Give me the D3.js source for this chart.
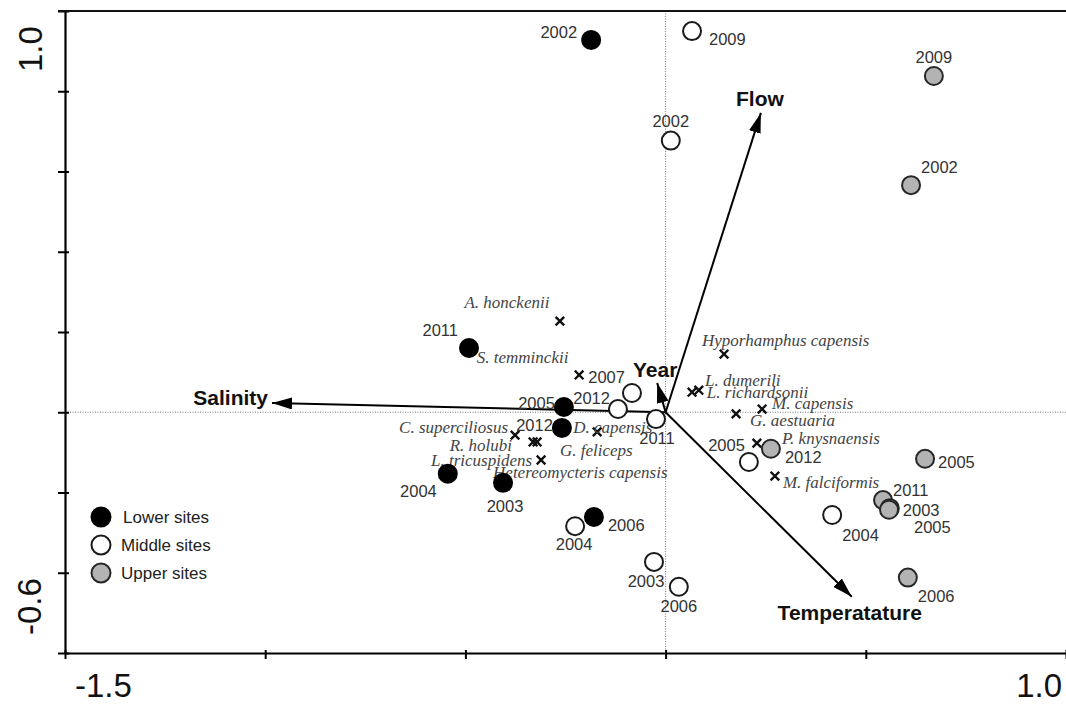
<!DOCTYPE html>
<html><head><meta charset="utf-8">
<script src="https://cdn.jsdelivr.net/npm/d3@7/dist/d3.min.js"></script>
<style>body{margin:0;background:#fff}svg{display:block}</style>
</head><body>
<svg id="c" width="1066" height="705"></svg>
<script>
// ---- data ----
const lowerYears = ["2002","2011","2005","2012","2004","2003","2006"];
const lowerX = [-0.186,-0.491,-0.254,-0.259,-0.544,-0.406,-0.179];
const lowerY = [0.928,0.160,0.013,-0.039,-0.153,-0.176,-0.261];

const middleYears = ["2009","2002","2007","2012","2011","2004","2003","2006","2005","2004"];
const middleX = [0.066,0.013,-0.084,-0.119,-0.024,-0.226,-0.029,0.033,0.208,0.416];
const middleY = [0.950,0.677,0.048,0.008,-0.017,-0.284,-0.373,-0.435,-0.124,-0.256];

const upperYears = ["2009","2002","2012","2005","2011","2003","2005","2006"];
const upperX = [0.670,0.613,0.263,0.648,0.543,0.560,0.558,0.605];
const upperY = [0.838,0.566,-0.091,-0.116,-0.219,-0.239,-0.243,-0.412];

const speciesNames = ["A. honckenii","S. temminckii","","C. superciliosus","R. holubi","L. tricuspidens",
  "Hetereomycteris capensis","D. capensis","G. feliceps","Hyporhamphus capensis","L. dumerili",
  "L. richardsonii","M. capensis","G. aestuaria","P. knysnaensis","M. falciformis"];
const speciesX = [-0.264,-0.489,-0.216,-0.376,-0.331,-0.321,-0.311,-0.171,-0.264,0.146,0.066,0.083,0.241,0.176,0.228,0.273];
const speciesY = [0.227,0.155,0.093,-0.057,-0.074,-0.074,-0.119,-0.049,-0.044,0.145,0.050,0.055,0.008,-0.004,-0.077,-0.159];

const vectorNames = ["Flow","Salinity","Temperatature","Year"];
const vectorX = [0.238,-0.983,0.465,-0.021];
const vectorY = [0.746,0.023,-0.460,0.073];

const xTicks = [-1.5,-1.0,-0.5,0,0.5,1.0];
const yTicks = [-0.6,-0.4,-0.2,0,0.2,0.4,0.6,0.8,1.0];
const xTickLabels = ["-1.5","1.0"];
const yTickLabels = ["1.0","-0.6"];
const legendLabels = ["Lower sites","Middle sites","Upper sites"];

// ---- layout (label offsets in px: dx, dy, anchor) ----
const lowerLab = [[-14,-8,"end"],[-11,-18,"end"],[-9,-4,"end"],[-9,-3,"end"],[-11,18,"end"],[2,23,"middle"],[14,8,"start"]];
const middleLab = [[17,8,"start"],[0,-19,"middle"],[-7,-16,"end"],[-8,-11,"end"],[1,19,"middle"],[-1,18,"middle"],[-8,19,"middle"],[0,19,"middle"],[-4,-17,"end"],[10,20,"start"]];
const upperLab = [[0,-19,"middle"],[10,-18,"start"],[14,8,"start"],[13,3,"start"],[10,-10,"start"],[13,2,"start"],[25,17,"start"],[10,19,"start"]];
const speciesLab = [[-53,-19,"middle"],[7,7,"start"],[0,0,"start"],[-7,-8,"end"],[-21,3,"end"],[-5,18,"end"],
  [-48,12,"start"],[-24,-5,"start"],[0,20,"start"],[-22,-14,"start"],[13,-12,"start"],[8,2,"start"],
  [10,-6,"start"],[14,6,"start"],[25,-5,"start"],[8,6,"start"]];
const vectorLab = [[-1,-14,"middle"],[-4,-5,"end"],[-2,16,"middle"],[-2,-13,"middle"]];

const svg = d3.select("#c");
const x = d3.scaleLinear().domain([-1.5,1.0]).range([65,1066]);
const y = d3.scaleLinear().domain([-0.6,1.0]).range([653,11]);

const SANS = "'Liberation Sans', Arial, sans-serif";
const SERIF = "'Liberation Serif', 'Times New Roman', serif";

// dotted reference lines
svg.append("line").attr("x1",x(0)).attr("x2",x(0)).attr("y1",y(1.0)).attr("y2",y(-0.6))
  .attr("stroke","#777").attr("stroke-width",1).attr("stroke-dasharray","1,1.5");
svg.append("line").attr("x1",x(-1.5)).attr("x2",x(1.0)).attr("y1",y(0)).attr("y2",y(0))
  .attr("stroke","#777").attr("stroke-width",1).attr("stroke-dasharray","1,1.5");

// axes
const ax = svg.append("g").attr("transform",`translate(0,${y(-0.6)})`)
  .call(d3.axisBottom(x).tickValues(xTicks).tickFormat("").tickSize(6).tickSizeOuter(0));
ax.selectAll(".tick line").attr("y1",-3).attr("stroke-width",2);
ax.select(".domain").attr("stroke-width",2.2);
const ay = svg.append("g").attr("transform",`translate(${x(-1.5)},0)`)
  .call(d3.axisLeft(y).tickValues(yTicks).tickFormat("").tickSize(7).tickSizeOuter(0));
ay.selectAll(".tick line").attr("x1",4).attr("stroke-width",2);
ay.select(".domain").attr("stroke-width",2.2);
svg.append("line").attr("x1",58).attr("x2",1066).attr("y1",y(1.0)).attr("y2",y(1.0))
  .attr("stroke","#111").attr("stroke-width",2.2);

// tick labels
svg.append("text").attr("x",x(-1.5)+10).attr("y",697).attr("font-family",SANS).attr("font-size",33)
  .attr("fill","#111").text(xTickLabels[0]);
svg.append("text").attr("x",x(1.0)-4).attr("y",697).attr("text-anchor","end").attr("font-family",SANS)
  .attr("font-size",33).attr("fill","#111").text(xTickLabels[1]);
svg.append("text").attr("transform",`translate(42,${y(1.0)+61}) rotate(-90)`).attr("font-family",SANS)
  .attr("font-size",33).attr("fill","#111").text(yTickLabels[0]);
svg.append("text").attr("transform",`translate(41,${y(-0.6)-18}) rotate(-90)`).attr("font-family",SANS)
  .attr("font-size",33).attr("fill","#111").text(yTickLabels[1]);

// species markers
const sp = speciesNames.map((n,i)=>({n, x:speciesX[i], y:speciesY[i], l:speciesLab[i]}));
const cs = 4.3;
sp.forEach(d=>{
  const px = x(d.x), py = y(d.y);
  svg.append("path").attr("d",`M${px-cs},${py-cs}L${px+cs},${py+cs}M${px-cs},${py+cs}L${px+cs},${py-cs}`)
    .attr("stroke","#111").attr("stroke-width",2.4);
});
sp.filter(d=>d.n).forEach(d=>{
  svg.append("text").attr("x",x(d.x)+d.l[0]).attr("y",y(d.y)+d.l[1]).attr("dy","0.35em")
    .attr("text-anchor",d.l[2]).attr("font-family",SERIF).attr("font-style","italic")
    .attr("font-size",17).attr("fill","#444").text(d.n);
});

// environmental vectors
const defs = svg.append("defs");
defs.append("marker").attr("id","ah").attr("viewBox","0 0 20 12").attr("refX",20).attr("refY",6)
  .attr("markerWidth",20).attr("markerHeight",12).attr("markerUnits","userSpaceOnUse").attr("orient","auto")
  .append("path").attr("d","M0,0L20,6L0,12Z").attr("fill","#000");
vectorNames.forEach((n,i)=>{
  svg.append("line").attr("x1",x(0)).attr("y1",y(0)).attr("x2",x(vectorX[i])).attr("y2",y(vectorY[i]))
    .attr("stroke","#000").attr("stroke-width",2).attr("marker-end","url(#ah)");
  const l = vectorLab[i];
  svg.append("text").attr("x",x(vectorX[i])+l[0]).attr("y",y(vectorY[i])+l[1]).attr("dy","0.35em")
    .attr("text-anchor",l[2]).attr("font-family",SANS).attr("font-weight","bold").attr("font-size",21)
    .attr("fill","#111").text(n);
});

// site points
const groups = [
  {years:lowerYears, xs:lowerX, ys:lowerY, lab:lowerLab, fill:"#000", stroke:"#000"},
  {years:middleYears, xs:middleX, ys:middleY, lab:middleLab, fill:"#fff", stroke:"#1a1a1a"},
  {years:upperYears, xs:upperX, ys:upperY, lab:upperLab, fill:"#b3b3b3", stroke:"#262626"}
];
groups.forEach(g=>{
  svg.append("g").selectAll("circle").data(g.years.map((yr,i)=>({yr,x:g.xs[i],y:g.ys[i]})))
    .join("circle").attr("cx",d=>x(d.x)).attr("cy",d=>y(d.y)).attr("r",9)
    .attr("fill",g.fill).attr("stroke",g.stroke).attr("stroke-width",2);
});
groups.forEach(g=>{
  g.years.forEach((yr,i)=>{
    const l = g.lab[i];
    svg.append("text").attr("x",x(g.xs[i])+l[0]).attr("y",y(g.ys[i])+l[1]).attr("dy","0.35em")
      .attr("text-anchor",l[2]).attr("font-family",SANS).attr("font-size",16.5).attr("fill","#333").text(yr);
  });
});

// legend
const legFill = ["#000","#fff","#b3b3b3"];
const legStroke = ["#000","#1a1a1a","#262626"];
legendLabels.forEach((t,i)=>{
  const ly = 517 + i*28;
  svg.append("circle").attr("cx",101).attr("cy",ly).attr("r",9.5).attr("fill",legFill[i])
    .attr("stroke",legStroke[i]).attr("stroke-width",2);
  svg.append("text").attr("x",i===0?123:121).attr("y",ly).attr("dy","0.35em").attr("font-family",SANS)
    .attr("font-size",17).attr("fill","#222").text(t);
});
</script>
</body></html>
